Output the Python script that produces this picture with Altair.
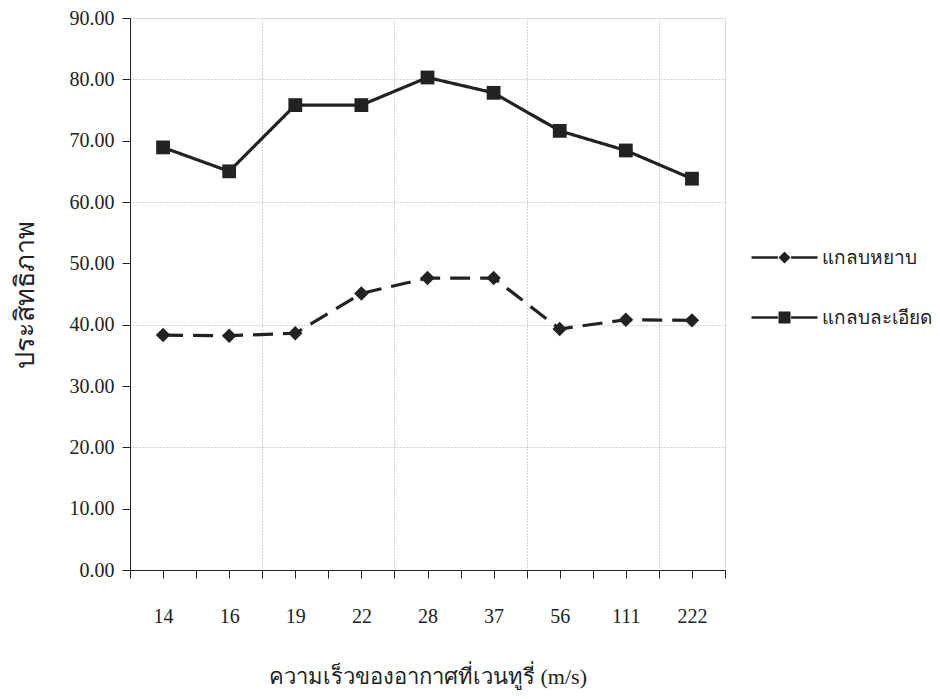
import json
import pandas as pd
import altair as alt

x_labels = ["14", "16", "19", "22", "28", "37", "56", "111", "222"]
series_names = ["แกลบหยาบ", "แกลบละเอียด"]
coarse = [38.3, 38.2, 38.6, 45.1, 47.6, 47.6, 39.3, 40.8, 40.7]
fine = [68.9, 65.0, 75.8, 75.8, 80.3, 77.8, 71.6, 68.4, 63.8]
y_title = "ประสิทธิภาพ"
x_title = "ความเร็วของอากาศที่เวนทูรี่ (m/s)"

rows = []
for i, lab in enumerate(x_labels):
    rows.append({"idx": i + 1, "speed": lab, "series": series_names[0], "v": coarse[i]})
    rows.append({"idx": i + 1, "speed": lab, "series": series_names[1], "v": fine[i]})
df = pd.DataFrame(rows)

FONT = "Liberation Serif"
INK = "#222222"
label_expr = "datum.value % 1 == 0 ? " + json.dumps(x_labels) + "[datum.value - 1] : ''"

xscale = alt.Scale(domain=[0.5, 9.5], nice=False, zero=False)
yscale = alt.Scale(domain=[0, 90], nice=False)

x_main = alt.X("idx:Q", scale=xscale, title=x_title,
               axis=alt.Axis(values=[0.5 + 0.5 * k for k in range(19)], labelExpr=label_expr,
                             grid=False, tickSize=8, labelPadding=28, titlePadding=40,
                             labelFontSize=20, titleFontSize=22, labelFont=FONT, titleFont=FONT,
                             domainColor=INK, tickColor=INK, labelColor=INK, titleColor=INK,
                             titleFontWeight="normal", labelFlush=False))
y_main = alt.Y("v:Q", scale=yscale, title=y_title,
               axis=alt.Axis(values=list(range(0, 91, 10)), format=".2f", grid=False,
                             tickSize=8, labelPadding=8, titlePadding=30,
                             labelFontSize=20, titleFontSize=27, labelFont=FONT, titleFont=FONT,
                             domainColor=INK, tickColor=INK, labelColor=INK, titleColor=INK,
                             titleFontWeight="normal"))

line = alt.Chart(df).mark_line(color=INK, strokeWidth=3.2).encode(
    x=x_main,
    y=y_main,
    strokeDash=alt.StrokeDash("series:N", scale=alt.Scale(domain=series_names, range=[[20, 10], [1, 0]]), legend=None),
    detail="series:N",
)

grid_axis_x = alt.Axis(orient="top", values=[2.5, 4.5, 6.5, 8.5], grid=True, domain=False, ticks=False,
                       labels=False, title=None, gridColor="#aaaaaa", gridDash=[1, 2], gridWidth=1,
                       minExtent=0, maxExtent=0, offset=0)
grid_axis_y = alt.Axis(orient="right", values=[20, 40, 60, 80], grid=True, domain=False, ticks=False,
                       labels=False, title=None, gridColor="#aaaaaa", gridDash=[1, 2], gridWidth=1,
                       minExtent=0, maxExtent=0, offset=0)

points = alt.Chart(df).mark_point(filled=True, color=INK, opacity=1).encode(
    x=alt.X("idx:Q", scale=xscale, axis=grid_axis_x),
    y=alt.Y("v:Q", scale=yscale, axis=grid_axis_y),
    shape=alt.Shape("series:N", scale=alt.Scale(domain=series_names, range=["diamond", "square"]), legend=None),
    size=alt.Size("series:N", scale=alt.Scale(domain=series_names, range=[210, 190]), legend=None),
)

legend_paths = [
    "M-5.5,-0.2L-1.1,-0.2L-1.1,0.2L-5.5,0.2ZM1.1,-0.2L5.5,-0.2L5.5,0.2L1.1,0.2ZM0,-1L1,0L0,1L-1,0Z",
    "M-5.5,-0.2L-1.1,-0.2L-1.1,0.2L-5.5,0.2ZM1.1,-0.2L5.5,-0.2L5.5,0.2L1.1,0.2ZM-1,-1L1,-1L1,1L-1,1Z",
]

legend_layer = alt.Chart(df).transform_filter("datum.v < -1000").mark_point(
    filled=True, color=INK, opacity=1
).encode(
    x=alt.X("idx:Q", scale=xscale, axis=None),
    y=alt.Y("v:Q", scale=yscale, axis=None),
    shape=alt.Shape("series:N", scale=alt.Scale(domain=series_names, range=legend_paths),
                    legend=alt.Legend(title=None, orient="none", legendX=645, legendY=230,
                                      symbolSize=144, symbolFillColor=INK, symbolStrokeWidth=0,
                                      labelOffset=28, rowPadding=40,
                                      labelFontSize=19, labelFont=FONT, labelColor=INK,
                                      labelLimit=300)),
)

chart = alt.layer(line, points, legend_layer).resolve_scale(
    shape="independent", strokeDash="independent", size="independent"
).resolve_axis(x="independent", y="independent").properties(
    width=595, height=552, padding={"left": 3, "top": 0, "right": 0, "bottom": 3}
).configure_view(stroke=None).configure(background="white")

chart.save("out.html", embed_options={"renderer": "svg", "actions": False})
